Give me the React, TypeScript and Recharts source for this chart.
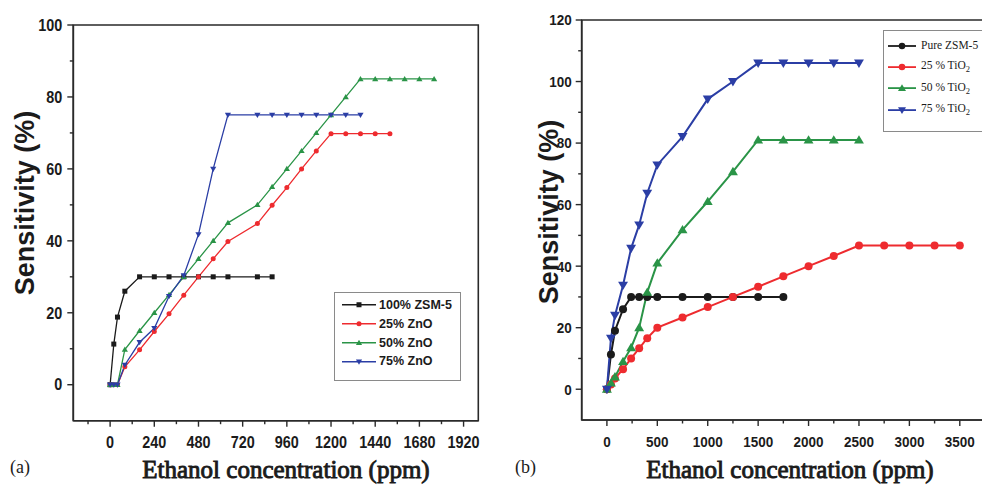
import React from 'react'
import { LineChart, Line, XAxis, YAxis, ReferenceArea } from 'recharts'

// ---------- panel (a): ZSM-5 / ZnO ----------
const zsmX = [0, 20, 40, 80, 160, 240, 320, 400, 480, 560, 640, 800, 880]
const zsmY = [0, 11.3, 18.8, 26, 30, 30, 30, 30, 30, 30, 30, 30, 30]

const zno25X = [0, 20, 40, 80, 160, 240, 320, 400, 480, 560, 640, 800, 880, 960, 1040, 1120, 1200, 1280, 1360, 1440, 1520]
const zno25Y = [0, 0, 0, 5, 9.7, 14.8, 19.7, 24.9, 30, 35, 39.8, 44.8, 49.9, 54.8, 60, 65, 69.8, 69.8, 69.8, 69.8, 69.8]

const zno50X = [0, 20, 40, 80, 160, 240, 320, 400, 480, 560, 640, 800, 880, 960, 1040, 1120, 1200, 1280, 1360, 1440, 1520, 1600, 1680, 1760]
const zno50Y = [0, 0, 0, 9.8, 15, 20, 25, 30, 35, 40, 45, 50, 55, 60, 65, 70, 75, 80, 85, 85, 85, 85, 85, 85]

const zno75X = [0, 20, 40, 80, 160, 240, 320, 400, 480, 560, 640, 800, 880, 960, 1040, 1120, 1200, 1280, 1360]
const zno75Y = [0, 0, 0, 5.5, 11.8, 15.7, 24.6, 30.4, 41.8, 60, 75, 75, 75, 75, 75, 75, 75, 75, 75]

const aXMajor = [0, 240, 480, 720, 960, 1200, 1440, 1680, 1920]
const aXMinor = [-120, 120, 360, 600, 840, 1080, 1320, 1560, 1800]
const aYMajor = [0, 20, 40, 60, 80, 100]
const aYMinor = [10, 30, 50, 70, 90]

// ---------- panel (b): ZSM-5 / TiO2 ----------
const tioX = [0, 40, 80, 160, 240, 320, 400, 500, 750, 1000, 1250, 1500, 1750, 2000, 2250, 2500, 2750, 3000, 3250, 3500]
const pureY = [0, 11.3, 19, 26, 30, 30, 30, 30, 30, 30, 30, 30, 30]
const tio25Y = [0, 1.5, 3.5, 6.5, 10, 13.3, 16.6, 20, 23.3, 26.7, 30, 33.3, 36.7, 40, 43.3, 46.7, 46.7, 46.7, 46.7, 46.7]
const tio50Y = [0, 2, 4, 9, 13.5, 20, 31.5, 41, 51.8, 61, 70.7, 81, 81, 81, 81, 81]
const tio75Y = [0, 16.6, 24, 33.8, 45.8, 53.4, 63.7, 72.9, 82.1, 94.3, 100, 106, 106, 106, 106, 106]

const bXMajor = [0, 500, 1000, 1500, 2000, 2500, 3000, 3500]
const bXMinor = [250, 750, 1250, 1750, 2250, 2750, 3250]
const bYMajor = [0, 20, 40, 60, 80, 100, 120]
const bYMinor = [10, 30, 50, 70, 90, 110]

const BLACK = '#1b1b1b'
const RED = '#ee2b2f'
const GREEN = '#2a9447'
const BLUE = '#2b3ea5'
const AXIS = '#2a2a2a'
const SANS = '"Liberation Sans", Arial, sans-serif'
const SERIF = '"Liberation Serif", "Times New Roman", serif'

type Shape = 'square' | 'circle' | 'up' | 'down'

const pts = (xs: number[], ys: number[]) => ys.map((y, i) => ({ x: xs[i], y }))

function Marker({ shape, cx, cy, s, color }: { shape: Shape; cx: number; cy: number; s: number; color: string }) {
  if (shape === 'square') return <rect x={cx - s / 2} y={cy - s / 2} width={s} height={s} fill={color} />
  if (shape === 'circle') return <circle cx={cx} cy={cy} r={s / 2} fill={color} />
  const w = s * 0.62
  const h = s * 0.55
  if (shape === 'up')
    return <polygon points={`${cx},${cy - h * 1.1} ${cx - w},${cy + h * 0.8} ${cx + w},${cy + h * 0.8}`} fill={color} />
  return <polygon points={`${cx},${cy + h * 1.1} ${cx - w},${cy - h * 0.8} ${cx + w},${cy - h * 0.8}`} fill={color} />
}

const dotFor = (shape: Shape, s: number, color: string) => (p: any) => {
  if (p.cx == null || p.cy == null) return <g key={`n${p.index}`} />
  return (
    <g key={`d${p.index}`}>
      <Marker shape={shape} cx={p.cx} cy={p.cy} s={s} color={color} />
    </g>
  )
}

const makeXTick = (majors: number[], fs: number, dy: number) => (p: any) => {
  const v = p.payload.value
  const major = majors.includes(v)
  return (
    <g>
      <line x1={p.x} x2={p.x} y1={p.y} y2={p.y + (major ? 6 : 3.5)} stroke={AXIS} strokeWidth={1.4} />
      {major && (
        <text
          transform={`translate(${p.x},${p.y + dy}) scale(0.9,1)`}
          textAnchor="middle"
          fontSize={fs}
          fontWeight="bold"
          fontFamily={SANS}
          fill={BLACK}
        >
          {v}
        </text>
      )}
    </g>
  )
}

const makeYTick = (majors: number[], fs: number, dx: number) => (p: any) => {
  const v = p.payload.value
  const major = majors.includes(v)
  return (
    <g>
      <line x1={p.x} x2={p.x - (major ? 6 : 3.5)} y1={p.y} y2={p.y} stroke={AXIS} strokeWidth={1.4} />
      {major && (
        <text
          transform={`translate(${p.x - dx},${p.y + fs * 0.36}) scale(0.9,1)`}
          textAnchor="end"
          fontSize={fs}
          fontWeight="bold"
          fontFamily={SANS}
          fill={BLACK}
        >
          {v}
        </text>
      )}
    </g>
  )
}

interface Series {
  name: React.ReactNode
  data: { x: number; y: number }[]
  color: string
  shape: Shape
}

const seriesA: Series[] = [
  { name: '100% ZSM-5', data: pts(zsmX, zsmY), color: BLACK, shape: 'square' },
  { name: '25% ZnO', data: pts(zno25X, zno25Y), color: RED, shape: 'circle' },
  { name: '50% ZnO', data: pts(zno50X, zno50Y), color: GREEN, shape: 'up' },
  { name: '75% ZnO', data: pts(zno75X, zno75Y), color: BLUE, shape: 'down' },
]

const tio = (n: string) => (
  <span>
    {n} % TiO<sub style={{ fontSize: 8.5 }}>2</sub>
  </span>
)

const seriesB: Series[] = [
  { name: 'Pure ZSM-5', data: pts(tioX, pureY), color: BLACK, shape: 'circle' },
  { name: tio('25'), data: pts(tioX, tio25Y), color: RED, shape: 'circle' },
  { name: tio('50'), data: pts(tioX, tio50Y), color: GREEN, shape: 'up' },
  { name: tio('75'), data: pts(tioX, tio75Y), color: BLUE, shape: 'down' },
]

const abs = (left: number, top: number): React.CSSProperties => ({ position: 'absolute', left, top })

function YTitle({ cx, cy }: { cx: number; cy: number }) {
  return (
    <div
      style={{
        ...abs(cx, cy),
        transform: 'translate(-50%,-50%) rotate(-90deg)',
        whiteSpace: 'nowrap',
        fontFamily: SANS,
        fontWeight: 'bold',
        fontSize: 27,
        color: BLACK,
        lineHeight: 1,
      }}
    >
      Sensitivity (%)
    </div>
  )
}

// faux-bold serif title (bold Liberation Serif is not resolved in the sandbox)
function XTitle({ cx }: { cx: number }) {
  return (
    <div
      style={{
        ...abs(cx, 469),
        transform: 'translate(-50%,-50%)',
        whiteSpace: 'nowrap',
        fontFamily: SERIF,
        fontSize: 25,
        color: BLACK,
        WebkitTextStroke: `0.9px ${BLACK}`,
        lineHeight: 1,
      }}
    >
      Ethanol concentration (ppm)
    </div>
  )
}

export default function App() {
  return (
    <div
      style={{
        position: 'fixed',
        left: 0,
        top: 0,
        width: 982,
        height: 487,
        overflow: 'hidden',
        background: '#fff',
      }}
    >
      {/* panel (a) */}
      <div style={abs(0, 0)}>
        <LineChart width={490} height={487} margin={{ top: 25, right: 11.7, bottom: 36.3, left: 43.3 }}>
          <XAxis
            type="number"
            dataKey="x"
            domain={[-200, 2000]}
            ticks={[...aXMinor, ...aXMajor].sort((a, b) => a - b)}
            interval={0}
            tickSize={0}
            tickMargin={0}
            tickLine={false}
            height={30}
            stroke={AXIS}
            strokeWidth={1.6}
            tick={makeXTick(aXMajor, 16, 27)}
            allowDataOverflow
          />
          <YAxis
            type="number"
            dataKey="y"
            domain={[-10, 100]}
            ticks={[...aYMinor, ...aYMajor].sort((a, b) => a - b)}
            interval={0}
            tickSize={0}
            tickMargin={0}
            tickLine={false}
            width={30}
            stroke={AXIS}
            strokeWidth={1.6}
            tick={makeYTick(aYMajor, 16, 11)}
            allowDataOverflow
          />
          <ReferenceArea x1={-200} x2={2000} y1={-10} y2={100} fill="none" stroke={AXIS} strokeWidth={1.6} />
          {seriesA.map((s, i) => (
            <Line
              key={i}
              data={s.data}
              dataKey="y"
              type="linear"
              stroke={s.color}
              strokeWidth={1.3}
              dot={dotFor(s.shape, 5, s.color)}
              activeDot={false}
              isAnimationActive={false}
            />
          ))}
        </LineChart>
      </div>

      {/* panel (b) */}
      <div style={abs(500, 0)}>
        <LineChart width={500} height={487} margin={{ top: 20, right: 15, bottom: 37, left: 51.7 }}>
          <XAxis
            type="number"
            dataKey="x"
            domain={[-250, 3750]}
            ticks={[...bXMinor, ...bXMajor].sort((a, b) => a - b)}
            interval={0}
            tickSize={0}
            tickMargin={0}
            tickLine={false}
            height={30}
            stroke={AXIS}
            strokeWidth={1.6}
            tick={makeXTick(bXMajor, 15, 27)}
            allowDataOverflow
          />
          <YAxis
            type="number"
            dataKey="y"
            domain={[-10, 120]}
            ticks={[...bYMinor, ...bYMajor].sort((a, b) => a - b)}
            interval={0}
            tickSize={0}
            tickMargin={0}
            tickLine={false}
            width={30}
            stroke={AXIS}
            strokeWidth={1.6}
            tick={makeYTick(bYMajor, 15, 10)}
            allowDataOverflow
          />
          <ReferenceArea x1={-250} x2={3750} y1={-10} y2={120} fill="none" stroke={AXIS} strokeWidth={1.6} />
          {seriesB.map((s, i) => (
            <Line
              key={i}
              data={s.data}
              dataKey="y"
              type="linear"
              stroke={s.color}
              strokeWidth={2}
              dot={dotFor(s.shape, 8, s.color)}
              activeDot={false}
              isAnimationActive={false}
            />
          ))}
        </LineChart>
      </div>

      {/* legend (a) */}
      <div
        style={{
          ...abs(334, 292),
          width: 127,
          height: 89,
          border: '1px solid #8a8a8a',
          boxSizing: 'border-box',
          background: '#fff',
        }}
      >
        {seriesA.map((s, i) => (
          <div key={i} style={{ ...abs(7, 12 + i * 18.8), display: 'flex', alignItems: 'center', transform: 'translateY(-50%)' }}>
            <svg width={34} height={10} style={{ display: 'block' }}>
              <line x1={0} x2={34} y1={5} y2={5} stroke={s.color} strokeWidth={1.3} />
              <Marker shape={s.shape} cx={17} cy={5} s={5} color={s.color} />
            </svg>
            <span style={{ marginLeft: 3, fontFamily: SANS, fontWeight: 'bold', fontSize: 12.5, color: BLACK, whiteSpace: 'nowrap', lineHeight: 1 }}>
              {s.name}
            </span>
          </div>
        ))}
      </div>

      {/* legend (b) */}
      <div
        style={{
          ...abs(883, 30),
          width: 130,
          height: 102,
          border: '1px solid #8a8a8a',
          boxSizing: 'border-box',
          background: '#fff',
        }}
      >
        {seriesB.map((s, i) => (
          <div key={i} style={{ ...abs(4, 15 + i * 21.3), display: 'flex', alignItems: 'center', transform: 'translateY(-50%)' }}>
            <svg width={28} height={12} style={{ display: 'block' }}>
              <line x1={0} x2={28} y1={6} y2={6} stroke={s.color} strokeWidth={1.8} />
              <Marker shape={s.shape} cx={14} cy={6} s={6.5} color={s.color} />
            </svg>
            <span style={{ marginLeft: 5, fontFamily: SERIF, fontSize: 11.5, color: BLACK, whiteSpace: 'nowrap', lineHeight: 1 }}>
              {s.name}
            </span>
          </div>
        ))}
      </div>

      <YTitle cx={25} cy={203} />
      <YTitle cx={549} cy={212} />
      <XTitle cx={286} />
      <XTitle cx={790} />
      <div style={{ ...abs(10, 458), fontFamily: SERIF, fontSize: 18, color: BLACK, lineHeight: 1 }}>(a)</div>
      <div style={{ ...abs(515, 458), fontFamily: SERIF, fontSize: 18, color: BLACK, lineHeight: 1 }}>(b)</div>
    </div>
  )
}
